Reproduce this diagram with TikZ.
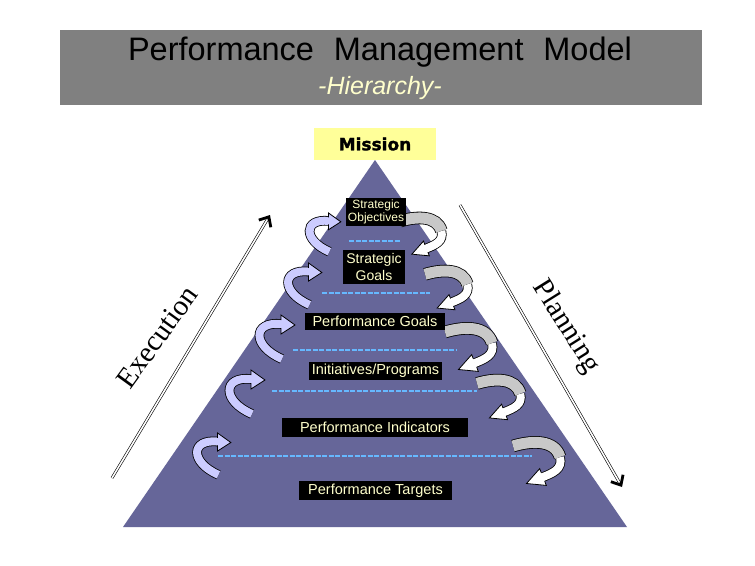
\documentclass[tikz,border=0pt]{standalone}
\usepackage{fontspec}
\setmainfont{Liberation Sans}
\newfontfamily\seriffont{Liberation Serif}
\newfontfamily\heavyfont{DejaVu Sans}[BoldFeatures={FakeBold=1.5}]
\usetikzlibrary{arrows.meta,calc}
\definecolor{titlegray}{HTML}{808080}
\definecolor{paleyellow}{HTML}{FFFFCC}
\definecolor{missionyellow}{HTML}{FFFF99}
\definecolor{pyr}{HTML}{666699}
\definecolor{dotblue}{HTML}{66B8FF}
\definecolor{lav}{HTML}{CCCCFF}
\definecolor{lgray}{HTML}{C8C8C8}
\tikzset{
  lvl/.style={fill=black, text=paleyellow, inner sep=0pt, align=center},
  dotline/.style={dotblue, line width=2.6pt, dash pattern=on 5pt off 1.5pt},
  larrow/.pic={
    \draw[double=lav, double distance=8pt, line width=0.8pt] (30,44) .. controls (0,31) and (0,6) .. (29.5,9);
    \filldraw[fill=lav, draw=black, line width=0.8pt] (29,5) -- (29,0) -- (43,10) -- (29,19) -- (29,13);
  },
  rarrow/.pic={
    \draw[double=white, double distance=8pt, line width=0.8pt] (47,18) .. controls (50,30) and (40,34) .. (29.5,38.2);
    \filldraw[fill=white, draw=black, line width=0.8pt] (28.3,33.8) -- (26.7,29.6) -- (13.5,44.5) -- (33.3,46.4) -- (31.7,42.2);
    \draw[double=lgray, double distance=11pt, line width=0.8pt] (0,7) .. controls (20,1) and (42,1) .. (47,18);
  },
  dirline/.style={double=white, double distance=1.6pt, line width=0.6pt},
  dirtip/.style={line width=0.1pt, -{Straight Barb[length=8pt, width=14pt, line width=2.8pt]}},
}
\begin{document}
\begin{tikzpicture}[x=1pt, y=-1pt]
\useasboundingbox[fill=white] (0,0) rectangle (755,565);

% title bar
\node[fill=titlegray, minimum width=642pt, minimum height=75pt, inner sep=0pt] (bar) at (381,67.5) {};
\node[font=\fontsize{32.5}{36}\selectfont] (title) at (380,52) {Performance\,\, Management\,\, Model};
\node[text=paleyellow, font=\fontsize{25}{28}\selectfont\itshape] (sub) at (380,88) {-Hierarchy-};

% pyramid
\coordinate (apex) at (375,160);
\coordinate (bl) at (123,527);
\coordinate (br) at (627,527);
\fill[pyr] (apex) -- (bl) -- (br) -- cycle;

% dotted separators
\draw[dotline] (349,241) -- (401,241);
\draw[dotline] (322,293) -- (430,293);
\draw[dotline] (293,350) -- (457,350);
\draw[dotline] (272,391) -- (477,391);
\draw[dotline] (218,456) -- (532,456);

% curved arrows left (execution side)
\pic[scale=0.88] at (303,213) {larrow};
\pic[scale=0.95] at (281,263) {larrow};
\pic at (252,315) {larrow};
\pic at (222,370) {larrow};
\pic[scale=0.95] at (190,433) {larrow};

% curved arrows right (planning side)
\pic[scale=0.88] at (400,215) {rarrow};
\pic[scale=0.9] at (425,268) {rarrow};
\pic at (445,325) {rarrow};
\pic[scale=0.92] at (477,377) {rarrow};
\pic at (513,439) {rarrow};

% level labels
\node[lvl, minimum width=60pt, minimum height=28pt, font=\fontsize{12}{12.5}\selectfont] (so) at (376,212)
  {Strategic\\Objectives};
\node[lvl, minimum width=62pt, minimum height=34pt, font=\fontsize{14}{17}\selectfont] (sg) at (374,267)
  {Strategic\\Goals};
\node[lvl, minimum width=140pt, minimum height=17pt, font=\fontsize{14.5}{16}\selectfont] (pg) at (375,321)
  {Performance Goals};
\node[lvl, minimum width=133pt, minimum height=18pt, font=\fontsize{14.5}{16}\selectfont] (ip) at (375.5,371)
  {Initiatives/Programs};
\node[lvl, minimum width=186pt, minimum height=19pt, font=\fontsize{14.5}{16}\selectfont] (pi) at (375,427.5)
  {Performance Indicators};
\node[lvl, minimum width=153pt, minimum height=19pt, font=\fontsize{14.5}{16}\selectfont] (pt) at (375.5,490.5)
  {Performance Targets};

% mission
\node[fill=missionyellow, minimum width=122pt, minimum height=32pt, inner sep=0pt,
      font=\heavyfont\bfseries\fontsize{17}{19}\selectfont] (mission) at (375,144) {Mission};

% execution arrow
\coordinate (e1) at (112,478);
\coordinate (e2) at (270,215);
\draw[dirline, shorten >=3pt] (e1) -- (e2);
\draw[dirtip] ($(e2)!6pt!(e1)$) -- (e2);
\node[rotate=54, font=\seriffont\fontsize{29}{32}\selectfont] (exec) at (157,337) {Execution};

% planning arrow
\coordinate (p1) at (460,205);
\coordinate (p2) at (622,487);
\draw[dirline, shorten >=3pt] (p1) -- (p2);
\draw[dirtip] ($(p2)!6pt!(p1)$) -- (p2);
\node[rotate=-58, font=\seriffont\fontsize{29}{32}\selectfont] (plan) at (566,327) {Planning};
\end{tikzpicture}
\end{document}
